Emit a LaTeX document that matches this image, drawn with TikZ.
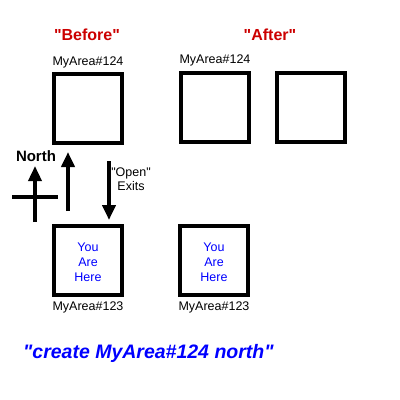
\documentclass[tikz,border=0pt]{standalone}
\usepackage{fontspec}
\setmainfont{Liberation Sans}
\usetikzlibrary{arrows.meta,positioning}
\newcommand{\clrtitle}{red!80!black}
\newcommand{\clrhere}{blue}
\newcommand{\qt}{\textquotedbl}

\begin{document}
\begin{tikzpicture}[x=1pt,y=-1pt,
    room/.style={draw, line width=4pt, minimum width=68pt, minimum height=69pt, inner sep=0pt},
    roomname/.style={font=\fontsize{12.5}{14}\selectfont, inner sep=0pt},
    heading/.style={font=\bfseries\fontsize{16}{18}\selectfont, text=\clrtitle, inner sep=0pt},
    here/.style={font=\fontsize{12.5}{15}\selectfont, text=\clrhere, align=center, inner sep=0pt},
    bigarrow/.style={line width=4pt, -{Triangle[width=13pt,length=15pt]}}]

        \useasboundingbox[fill=white] (0,0) rectangle (400,400);

        % rooms, before and after
        \foreach \n/\x/\y in {b124/88/108.5, b123/88/260.5, a124/215/107, anew/311/107, a123/214/260.5} {
            \node[room] (\n) at (\x,\y) {};
        }

        \foreach \n in {b124, a124} {
            \node[roomname, above=4pt of \n] {MyArea\#124};
        }
        \foreach \n in {b123, a123} {
            \node[roomname, below=5pt of \n] {MyArea\#123};
            \node[here, yshift=-2pt] at (\n) {You\\Are\\Here};
        }

        \node[heading] (before) at (87,35) {\qt Before\qt};
        \node[heading] (after) at (270,35) {\qt After\qt};

        % exits between the two rooms
        \coordinate (uptail) at (68,211);
        \coordinate (uphead) at (68,152);
        \coordinate (downtail) at (109,161);
        \coordinate (downhead) at (109,220);
        \draw[bigarrow] (uptail) -- (uphead);
        \draw[bigarrow] (downtail) -- (downhead);
        \node[roomname, align=center] (exits) at (131,179) {\qt Open\qt\\Exits};

        % compass
        \coordinate (west) at (12,197);
        \coordinate (east) at (58,197);
        \coordinate (south) at (35,222);
        \coordinate (north) at (35,166);
        \draw[line width=4pt] (west) -- (east);
        \draw[bigarrow, line width=3.5pt] (south) -- (north);
        \node[font=\bfseries\fontsize{15}{17}\selectfont, inner sep=0pt] (northlabel) at (36,156) {North};

        \node[font=\bfseries\itshape\fontsize{19.5}{22}\selectfont, text=\clrhere, anchor=west, inner sep=0pt] (command) at (23,353) {\qt create MyArea\#124 north\qt};

\end{tikzpicture}
\end{document}
